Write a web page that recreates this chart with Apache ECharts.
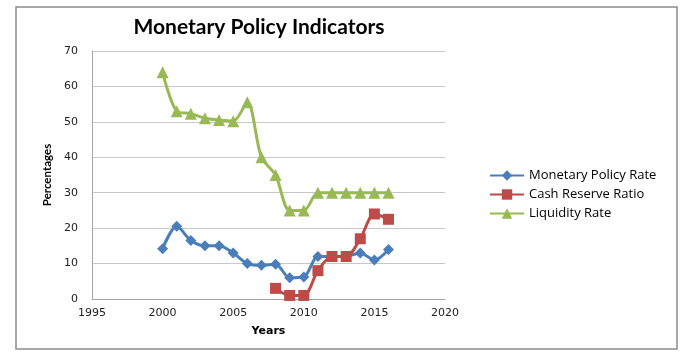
<!DOCTYPE html>
<html>
<head>
<meta charset="utf-8">
<script src="https://cdn.jsdelivr.net/npm/echarts@6/dist/echarts.min.js"></script>
<style>
html,body{margin:0;padding:0;background:#fff;}
#chart{width:700px;height:359px;}
</style>
</head>
<body>
<div id="chart"></div>
<script>
const years = [2000,2001,2002,2003,2004,2005,2006,2007,2008,2009,2010,2011,2012,2013,2014,2015,2016];
const monetaryPolicyRate = [14.2,20.5,16.5,15,15,13,10,9.5,9.8,6,6.2,12,12,12,13,11,14];
const crrYears = [2008,2009,2010,2011,2012,2013,2014,2015,2016];
const cashReserveRatio = [3,1,1,8,12,12,17,24,22.5];
const liquidityRate = [64,53,52.3,51,50.5,50.2,55.5,40,35,25,25,30,30,30,30,30,30];
const xTicks = [1995,2020,5];
const yTicks = [0,70,10];

const pair = (xs, ys) => xs.map((x,i)=>[x, ys[i]]);

const chart = echarts.init(document.getElementById('chart'));
chart.setOption({
  animation:false,
  backgroundColor:'#fff',
  graphic:[{type:'rect',shape:{x:16,y:7,width:661,height:342},style:{fill:'none',stroke:'#8c8c8c',lineWidth:1.5},silent:true}],
  title:{text:'Monetary Policy Indicators',left:254,top:12,textAlign:'center',
    textStyle:{fontFamily:'Lato',fontWeight:'bold',fontSize:21,color:'#000'}},
  legend:{orient:'vertical',left:484,top:164,itemGap:6,itemWidth:34,itemHeight:13,
    textStyle:{fontFamily:'Open Sans',fontSize:13,color:'#000'},
    data:['Monetary Policy Rate','Cash Reserve Ratio','Liquidity Rate']},
  grid:{left:92,right:255,top:51,bottom:60},
  xAxis:{type:'value',min:xTicks[0],max:xTicks[1],interval:xTicks[2],
    name:'Years',nameLocation:'middle',nameGap:27,
    nameTextStyle:{fontFamily:'DejaVu Sans',fontWeight:'bold',fontSize:11,color:'#000'},
    axisLine:{show:true,lineStyle:{color:'#a6a6a6'}},
    axisTick:{show:false},splitLine:{show:false},
    axisLabel:{fontFamily:'DejaVu Sans',fontSize:11,color:'#222',margin:9,formatter:v=>String(v)}},
  yAxis:{type:'value',min:yTicks[0],max:yTicks[1],interval:yTicks[2],
    name:'Percentages',nameLocation:'middle',nameGap:30,nameRotate:90,
    nameTextStyle:{fontFamily:'Lato',fontWeight:'bold',fontSize:11.5,color:'#000'},
    axisLine:{show:true,lineStyle:{color:'#a6a6a6'}},
    axisTick:{show:false},
    splitLine:{lineStyle:{color:'#c8c8c8'}},
    axisLabel:{fontFamily:'DejaVu Sans',fontSize:11,color:'#222',margin:14}},
  series:[
    {name:'Monetary Policy Rate',type:'line',smooth:0.3,data:pair(years,monetaryPolicyRate),
      symbol:'diamond',symbolSize:11,color:'#4a7ebb',lineStyle:{width:3},itemStyle:{color:'#4a7ebb'}},
    {name:'Cash Reserve Ratio',type:'line',smooth:0.3,data:pair(crrYears,cashReserveRatio),
      symbol:'rect',symbolSize:11,color:'#be4b48',lineStyle:{width:3},itemStyle:{color:'#be4b48'}},
    {name:'Liquidity Rate',type:'line',smooth:0.3,data:pair(years,liquidityRate),
      symbol:'triangle',symbolSize:12,color:'#98b954',lineStyle:{width:3},itemStyle:{color:'#98b954'}}
  ]
});
</script>
</body>
</html>
